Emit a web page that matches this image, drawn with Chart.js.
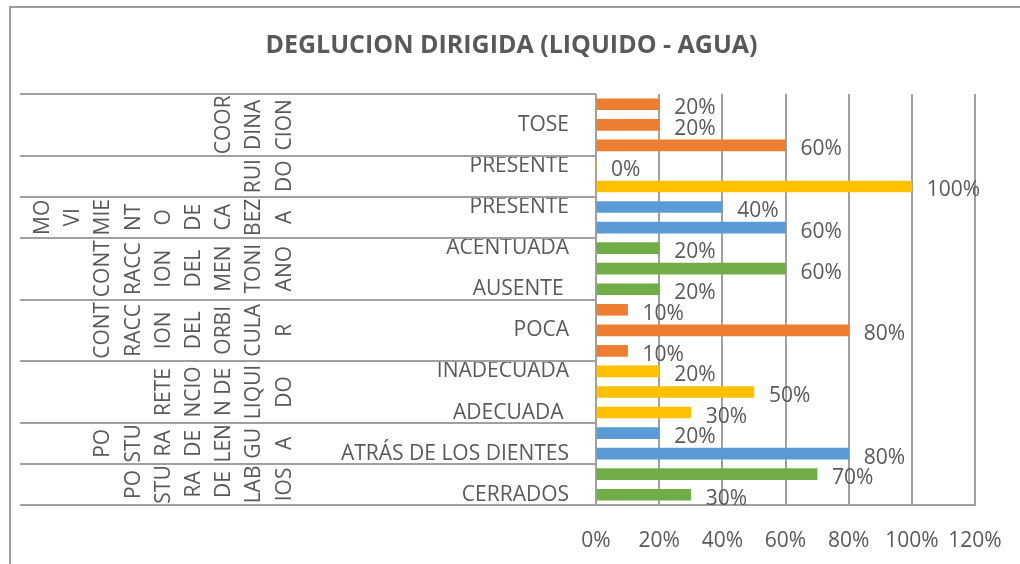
<!DOCTYPE html>
<html><head><meta charset="utf-8">
<script src="https://cdn.jsdelivr.net/npm/chart.js@4.4.1/dist/chart.umd.min.js"></script>
<style>html,body{margin:0;padding:0;background:#fff;} #wrap{position:relative;width:1020px;height:564px;overflow:hidden}</style>
</head><body><div id="wrap"><canvas id="c" width="1020" height="564"></canvas></div>
<script>
const titleText = 'DEGLUCION DIRIGIDA (LIQUIDO - AGUA)';
// level-1 categories, top to bottom (only the labels visible in the reference)
const categories = ['', 'TOSE', '', 'PRESENTE', '', 'PRESENTE', '', 'ACENTUADA', '', 'AUSENTE ',
                    '', 'POCA', '', 'INADECUADA', '', 'ADECUADA ', '', 'ATRÁS DE LOS DIENTES', '', 'CERRADOS'];
const values = [20, 20, 60, 0, 100, 40, 60, 20, 60, 20, 10, 80, 10, 20, 50, 30, 20, 80, 70, 30];
// level-2 groups (wrapped text lines as shown) and their row counts
const groupSizes = [3, 2, 2, 3, 3, 3, 2, 2];
const groupLabels = [
  ['COOR', 'DINA', 'CION'],
  ['RUI', 'DO'],
  ['MO', 'VI', 'MIE', 'NT', 'O', 'DE', 'CA', 'BEZ', 'A'],
  ['CONT', 'RACC', 'ION', 'DEL', 'MEN', 'TONI', 'ANO'],
  ['CONT', 'RACC', 'ION', 'DEL', 'ORBI', 'CULA', 'R'],
  ['RETE', 'NCIO', 'N DE', 'LIQUI', 'DO'],
  ['PO', 'STU', 'RA', 'DE', 'LEN', 'GU', 'A'],
  ['PO', 'STU', 'RA', 'DE', 'LAB', 'IOS']
];
const groupColors = ['#ED7D31', '#FFC000', '#5B9BD5', '#70AD47', '#ED7D31', '#FFC000', '#5B9BD5', '#70AD47'];
const xTickValues = [0, 20, 40, 60, 80, 100, 120];

const TEXT = '#595959', LINE = '#a0a0a0', FAM = '"Open Sans", sans-serif';
const barColors = [];
groupSizes.forEach((n, g) => { for (let i = 0; i < n; i++) barColors.push(groupColors[g]); });

const decor = {
  id: 'decor',
  beforeDraw(chart) {
    const ctx = chart.ctx;
    ctx.save();
    ctx.fillStyle = '#fff'; ctx.fillRect(0, 0, chart.width, chart.height);
    ctx.strokeStyle = '#9e9e9e'; ctx.lineWidth = 2;
    ctx.strokeRect(10, 7, 1100, 700);
    ctx.restore();
  },
  afterDatasetsDraw(chart) {
    const ctx = chart.ctx;
    const meta = chart.getDatasetMeta(0);
    ctx.save();
    ctx.fillStyle = TEXT; ctx.font = '21px ' + FAM;
    ctx.textAlign = 'left'; ctx.textBaseline = 'alphabetic';
    meta.data.forEach((el, i) => { ctx.fillText(values[i] + '%', el.x + 15, el.y + 10); });
    ctx.restore();
  },
  afterDraw(chart) {
    const ctx = chart.ctx, y = chart.scales.y;
    const h = y.getPixelForValue(1) - y.getPixelForValue(0);
    const bounds = [y.getPixelForValue(0) - h / 2];
    let start = 0;
    groupSizes.forEach(n => { start += n; bounds.push(y.getPixelForValue(start - 1) + h / 2); });
    ctx.save();
    ctx.strokeStyle = LINE; ctx.lineWidth = 2;
    bounds.forEach(b => {
      const yy = Math.round(b);
      ctx.beginPath(); ctx.moveTo(20, yy); ctx.lineTo(chart.chartArea.left, yy); ctx.stroke();
    });
    ctx.fillStyle = TEXT; ctx.font = '21px ' + FAM;
    ctx.textAlign = 'center'; ctx.textBaseline = 'alphabetic';
    groupLabels.forEach((lines, g) => {
      const yc = (bounds[g] + bounds[g + 1]) / 2;
      lines.forEach((t, i) => {
        const x = chart.chartArea.left - 313 - (lines.length - 1 - i) * 30.2;
        ctx.save(); ctx.translate(x, yc); ctx.rotate(-Math.PI / 2); ctx.fillText(t, 0, 7.5); ctx.restore();
      });
    });
    ctx.restore();
  }
};

new Chart(document.getElementById('c'), {
  type: 'bar',
  data: {
    labels: categories,
    datasets: [{ data: values, backgroundColor: barColors, borderWidth: 0, barThickness: 11 }]
  },
  options: {
    indexAxis: 'y',
    responsive: false,
    animation: false,
    layout: { padding: { left: 48, right: 45, top: 0, bottom: 0 } },
    plugins: {
      legend: { display: false },
      tooltip: { enabled: false },
      title: {
        display: true, text: titleText, color: TEXT,
        font: { family: FAM, size: 25, weight: 'bold', lineHeight: 1.2 },
        padding: { top: 30.5, bottom: 33.5 }
      }
    },
    scales: {
      x: {
        min: 0, max: 120,
        afterBuildTicks: (s) => { s.ticks = xTickValues.map(v => ({ value: v })); },
        afterFit: (s) => { s.height = 59; s.paddingRight = 0; s.paddingLeft = 0; },
        ticks: { color: TEXT, font: { family: FAM, size: 21 }, padding: 23, autoSkip: false, maxRotation: 0,
                 callback: (v) => v + '%' },
        grid: { color: LINE, lineWidth: 2, drawTicks: false },
        border: { display: true, color: LINE, width: 2 }
      },
      y: {
        afterFit: (s) => { s.width = 548; s.paddingTop = 0; s.paddingBottom = 0; },
        ticks: { color: TEXT, font: { family: FAM, size: 21 }, padding: 27, autoSkip: false },
        grid: { display: false, drawTicks: false },
        border: { display: false }
      }
    }
  },
  plugins: [decor]
});
</script>
</body></html>
